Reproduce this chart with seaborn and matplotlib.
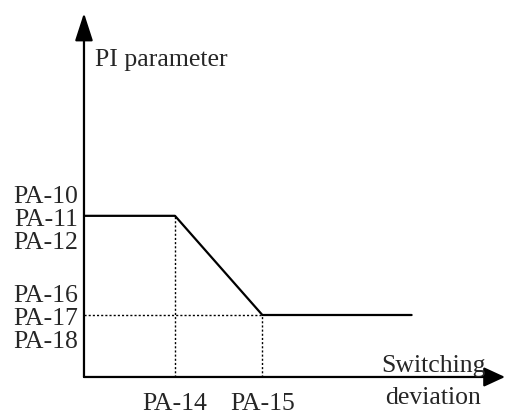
import matplotlib.pyplot as plt
import pandas as pd
import seaborn as sns

# Curve of the PI parameter against the switching deviation (schematic units)
dev = [0, 1, 1.96, 3.6]
param = [2.6, 2.6, 1.0, 1.0]
x_ticks = [1, 1.96]
x_labels = ["PA-14", "PA-15"]
y_ticks = [1.0, 2.6]
y_labels = ["PA-16\nPA-17\nPA-18", "PA-10\nPA-11\nPA-12"]

df = pd.DataFrame({"dev": dev, "param": param})

sns.set_style("white")
plt.rcParams["font.family"] = ["Liberation Serif", "DejaVu Serif"]

fig = plt.figure(figsize=(5.05, 4.14), dpi=100)
ax = fig.add_axes([0.1663, 0.087, 0.8337, 0.879])
ax.set_xlim(0, 4.626)
ax.set_ylim(0, 5.871)

sns.lineplot(data=df, x="dev", y="param", sort=False, color="black",
             linewidth=1.6, ax=ax)

# dotted guides
ax.plot([x_ticks[0], x_ticks[0]], [0, param[1]], color="black", lw=1,
        linestyle=(0, (1.5, 1.5)))
ax.plot([x_ticks[1], x_ticks[1]], [0, param[2]], color="black", lw=1,
        linestyle=(0, (1.5, 1.5)))
ax.plot([0, x_ticks[1]], [param[2], param[2]], color="black", lw=1,
        linestyle=(0, (1.5, 1.5)))

# axes with arrow heads
for sp in ax.spines.values():
    sp.set_visible(False)
ax.annotate("", xy=(4.626, 0), xytext=(0, 0),
            arrowprops=dict(arrowstyle="-|>,head_length=13,head_width=6",
                            mutation_scale=1, color="black", lw=1.6,
                            shrinkA=0, shrinkB=0), annotation_clip=False)
ax.annotate("", xy=(0, 5.871), xytext=(0, 0),
            arrowprops=dict(arrowstyle="-|>,head_length=17,head_width=5.5",
                            mutation_scale=1, color="black", lw=1.6,
                            shrinkA=0, shrinkB=0), annotation_clip=False)

ax.set_xticks(x_ticks)
ax.set_xticklabels(x_labels, fontsize=18.5)
ax.set_yticks(y_ticks)
ax.set_yticklabels(y_labels, fontsize=18.5)
for lbl in ax.get_yticklabels():
    lbl.set_linespacing(1.05)
ax.tick_params(axis="x", length=0, pad=11)
ax.tick_params(axis="y", length=0, pad=4)
ax.set_xlabel("")
ax.set_ylabel("")

ax.text(0.12, 5.13, "PI parameter", fontsize=18.5, va="center", ha="left")
ax.text(3.835, -0.07, "Switching\ndeviation", fontsize=18.5, va="center",
        ha="center", linespacing=1.6)

fig.savefig("out.png", dpi=100)
